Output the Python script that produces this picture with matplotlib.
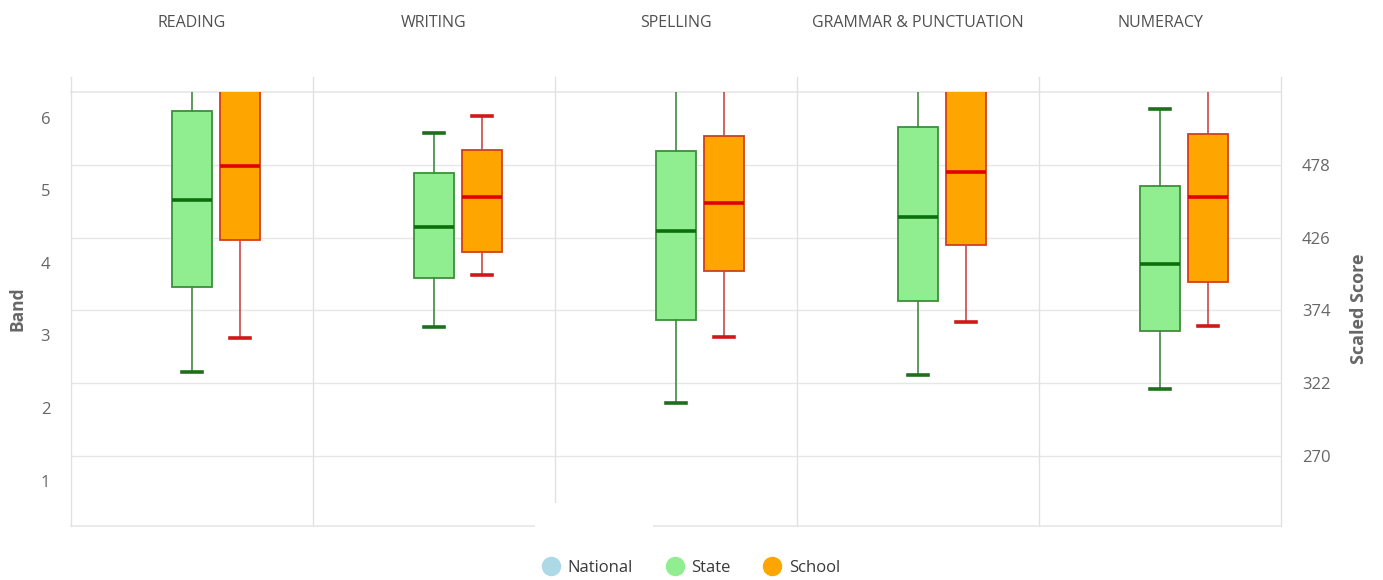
import matplotlib
matplotlib.use("Agg")
import matplotlib.pyplot as plt
from matplotlib.lines import Line2D
from matplotlib.patches import Rectangle

# ---------------- data ----------------
categories = ["READING", "WRITING", "SPELLING", "GRAMMAR & PUNCTUATION", "NUMERACY"]

state_whislo = [330, 362, 308, 328, 318]
state_q1     = [391, 397, 367, 381, 359]
state_med    = [453, 434, 431, 441, 407]
state_q3     = [517, 472, 488, 505, 463]
state_whishi = [545, 501, 545, 545, 518]

school_whislo = [354, 399, 355, 366, 363]
school_q1     = [424, 416, 402, 421, 394]
school_med    = [477, 455, 451, 473, 455]
school_q3     = [540, 489, 499, 540, 500]
school_whishi = [560, 513, 545, 560, 545]

score_ticks = [270, 322, 374, 426, 478]
band_ticks = [252, 304, 356, 408, 460, 512]
band_labels = ["1", "2", "3", "4", "5", "6"]
legend_labels = ["National", "State", "School"]

# ---------------- figure ----------------
plt.rcParams['font.family'] = ['Open Sans', 'DejaVu Sans']
W, H = 1383, 580
fig = plt.figure(figsize=(W / 100, H / 100), dpi=100)
L, R, T, B = 71, 1281, 92, 526
ax = fig.add_axes([L / W, 1 - B / H, (R - L) / W, (B - T) / H])

ax.set_xlim(0, len(categories))
ax.set_ylim(219.6, 530.3)

txt = "#666666"
grid_c = "#e6e6e6"
vline_c = "#dfe1ea"

# horizontal grid lines (top line included)
for v in score_ticks:
    ax.axhline(v, color=grid_c, lw=1, zorder=0)
ax.axhline(530.3, color=grid_c, lw=1.2, zorder=0, clip_on=False)

# vertical separators extending above the plot
ext = 1 + (T - 77) / (B - T)
for i in range(len(categories) + 1):
    ax.plot([i, i], [0, ext], transform=ax.get_xaxis_transform(),
            color=vline_c, lw=1, clip_on=False, zorder=0)

for s in ["top", "left", "right"]:
    ax.spines[s].set_visible(False)
ax.spines["bottom"].set_color(grid_c)
ax.spines["bottom"].set_linewidth(1.2)

ax.set_xticks([])
ax.set_yticks(band_ticks)
ax.set_yticklabels(band_labels)
ax.tick_params(axis="y", length=0, pad=15, labelsize=12, labelcolor=txt)
ax.set_ylabel("Band", fontsize=12.5, fontweight="bold", color=txt, labelpad=10)

ax2 = ax.twinx()
ax2.set_ylim(ax.get_ylim())
ax2.set_yticks(score_ticks)
ax2.set_yticklabels([str(v) for v in score_ticks])
ax2.tick_params(axis="y", length=0, pad=15, labelsize=12, labelcolor=txt)
for s in ax2.spines.values():
    s.set_visible(False)
ax2.set_ylabel("Scaled Score", fontsize=13, fontweight="bold", color=txt, labelpad=14)

# category titles
for i, c in enumerate(categories):
    ax.text(i + 0.5, 1 + (T - 23) / (B - T), c, transform=ax.get_xaxis_transform(),
            ha="center", va="center", fontsize=11.5, color="#505050")

# ---------------- boxes ----------------
offset = 48 / 242
bw = 40 / 242
cw = 20 / 242

def stats(lo, q1, med, q3, hi):
    return [dict(whislo=a, q1=b, med=c, q3=d, whishi=e, fliers=[])
            for a, b, c, d, e in zip(lo, q1, med, q3, hi)]

centers = [i + 0.5 for i in range(len(categories))]

ax.bxp(stats(state_whislo, state_q1, state_med, state_q3, state_whishi),
       positions=centers, widths=bw, capwidths=cw, patch_artist=True,
       showfliers=False, manage_ticks=False,
       boxprops=dict(facecolor="#90ee90", edgecolor="#3c8f3c", linewidth=1.3),
       whiskerprops=dict(color="#3f8a3f", linewidth=1.2),
       capprops=dict(color="#1e6e1e", linewidth=2.6),
       medianprops=dict(color="#0b700b", linewidth=2.6))

ax.bxp(stats(school_whislo, school_q1, school_med, school_q3, school_whishi),
       positions=[c + offset for c in centers], widths=bw, capwidths=cw,
       patch_artist=True, showfliers=False, manage_ticks=False,
       boxprops=dict(facecolor="#ffa500", edgecolor="#d2401a", linewidth=1.3),
       whiskerprops=dict(color="#c84848", linewidth=1.2),
       capprops=dict(color="#d01818", linewidth=2.6),
       medianprops=dict(color="#e00000", linewidth=2.6))

# ---------------- legend ----------------
handles = [Line2D([], [], marker="o", linestyle="none", markersize=13,
                  markerfacecolor=c, markeredgecolor=c)
           for c in ["#add8e6", "#90ee90", "#ffa500"]]
leg = fig.legend(handles, legend_labels, loc="center", ncol=3,
                 bbox_to_anchor=(0.5, 1 - 568 / H), frameon=False,
                 fontsize=12, handlelength=1.0, handletextpad=0.5,
                 columnspacing=2.0, borderaxespad=0)
for t in leg.get_texts():
    t.set_color("#3a3a3a")

# white overlay artifact at bottom middle
fig.patches.append(Rectangle((535 / W, 1 - 545 / H), (653 - 535) / W, (545 - 503) / H,
                             transform=fig.transFigure, facecolor="white",
                             edgecolor="none", zorder=5))

fig.savefig("out.png", dpi=100, facecolor="white")
